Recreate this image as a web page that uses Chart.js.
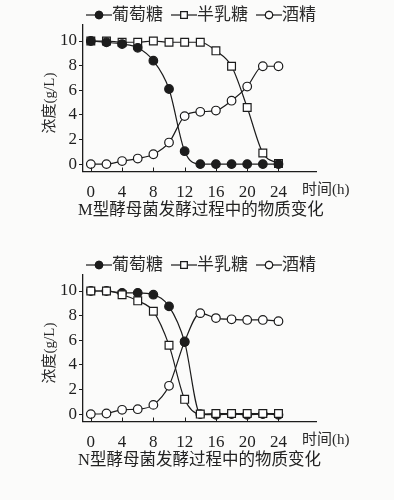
<!DOCTYPE html>
<html>
<head>
<meta charset="utf-8">
<script src="https://cdn.jsdelivr.net/npm/chart.js@4.4.1/dist/chart.umd.min.js"></script>
<style>
  html, body { margin: 0; padding: 0; background: #fbfbfa; }
  .panel { position: absolute; left: 0; width: 394px; height: 250px; }
</style>
</head>
<body>
<div class="panel" style="top:0"><canvas id="chartM" width="394" height="250"></canvas></div>
<div class="panel" style="top:250px"><canvas id="chartN" width="394" height="250"></canvas></div>
<script>
'use strict';

/* ─── Data ─── */
const hours = [0, 2, 4, 6, 8, 10, 12, 14, 16, 18, 20, 22, 24];
const seriesNames = ['葡萄糖', '半乳糖', '酒精'];

// M-type yeast
const mGlucose   = [10, 9.9, 9.75, 9.45, 8.4, 6.1, 1.05, 0, 0, 0, 0, 0, 0];
const mGalactose = [10, 10, 9.9, 9.9, 10, 9.9, 9.9, 9.9, 9.2, 7.95, 4.6, 0.9, 0.05];
const mEthanol   = [0, 0, 0.25, 0.45, 0.8, 1.75, 3.9, 4.25, 4.35, 5.15, 6.3, 7.95, 7.95];

// N-type yeast
const nGlucose   = [10, 10, 9.85, 9.85, 9.7, 8.75, 5.85, 0, -0.05, 0, -0.05, 0, -0.05];
const nGalactose = [10, 10, 9.7, 9.2, 8.35, 5.6, 1.2, 0, 0.05, 0.05, 0.05, 0.05, 0.05];
const nEthanol   = [0, 0.05, 0.35, 0.4, 0.75, 2.3, 5.9, 8.2, 7.8, 7.7, 7.65, 7.65, 7.55];

const xTicks = [0, 4, 8, 12, 16, 20, 24];
const yTicks = [0, 2, 4, 6, 8, 10];

const captions = {
  chartM: 'M型酵母菌发酵过程中的物质变化',
  chartN: 'N型酵母菌发酵过程中的物质变化'
};

/* ─── Style ─── */
const INK   = '#1c1c1c';
const FONT  = '"Liberation Serif", "Noto Sans CJK SC", serif';
const MARKS = [
  { pointStyle: 'circle', radius: 4.3, fill: INK },
  { pointStyle: 'rect',   radius: 5.5, fill: '#ffffff' },
  { pointStyle: 'circle', radius: 4.3, fill: '#ffffff' }
];

function toPoints(values) {
  return hours.map((h, i) => ({ x: h, y: values[i] }));
}

// topIndex: which series is painted over the others
function makeDatasets(series, topIndex) {
  return series.map((vals, i) => ({
    label: seriesNames[i],
    data: toPoints(vals),
    borderColor: INK,
    borderWidth: 1.2,
    cubicInterpolationMode: 'monotone',
    pointStyle: MARKS[i].pointStyle,
    pointRadius: MARKS[i].radius,
    pointBackgroundColor: MARKS[i].fill,
    pointBorderColor: INK,
    pointBorderWidth: 1.2,
    order: i === topIndex ? 0 : 1 + i
  }));
}

/* ─── Legend, axis titles, caption, inward x ticks ─── */
const decor = {
  id: 'decor',
  afterDraw(chart) {
    const ctx = chart.ctx;
    const xs = chart.scales.x;
    const area = chart.chartArea;
    ctx.save();
    ctx.strokeStyle = INK;
    ctx.fillStyle = INK;
    ctx.lineWidth = 1;

    // inward ticks on the x axis
    xTicks.forEach(v => {
      const px = Math.round(xs.getPixelForValue(v)) + 0.5;
      ctx.beginPath();
      ctx.moveTo(px, area.bottom);
      ctx.lineTo(px, area.bottom - 4);
      ctx.stroke();
    });

    // legend: —●— label
    ctx.font = '17px ' + FONT;
    ctx.textBaseline = 'middle';
    ctx.textAlign = 'left';
    let lx = 86;
    const ly = 15;
    chart.data.datasets.forEach((ds, i) => {
      const segLen = 26;
      ctx.strokeStyle = INK;
      ctx.lineWidth = 1.2;
      ctx.beginPath();
      ctx.moveTo(lx, ly);
      ctx.lineTo(lx + segLen, ly);
      ctx.stroke();
      ctx.fillStyle = MARKS[i].fill;
      Chart.helpers.drawPoint(ctx, {
        pointStyle: MARKS[i].pointStyle,
        radius: MARKS[i].radius * 0.85,
        borderWidth: 1.2
      }, lx + segLen / 2, ly);
      ctx.fill();
      ctx.stroke();
      ctx.fillStyle = '#2a2a2a';
      ctx.fillText(ds.label, lx + segLen, ly + 1);
      lx += segLen + ctx.measureText(ds.label).width + 8;
    });

    // y axis title, rotated
    ctx.fillStyle = '#2a2a2a';
    ctx.font = '15px ' + FONT;
    ctx.save();
    ctx.translate(50, 103);
    ctx.rotate(-Math.PI / 2);
    ctx.textAlign = 'center';
    ctx.fillText('浓度(g/L)', 0, 0);
    ctx.restore();

    // x axis title
    ctx.textAlign = 'left';
    ctx.fillText('时间(h)', 302, 190);

    // caption
    ctx.font = '16.5px ' + FONT;
    ctx.fillStyle = '#222';
    ctx.fillText(captions[chart.canvas.id], 78, 211);
    ctx.restore();
  }
};

function buildChart(id, series, topIndex) {
  return new Chart(document.getElementById(id), {
    type: 'line',
    data: { datasets: makeDatasets(series, topIndex) },
    plugins: [decor],
    options: {
      responsive: false,
      animation: false,
      events: [],
      layout: { padding: { left: 0, right: 78, top: 25, bottom: 0 } },
      plugins: { legend: { display: false }, tooltip: { enabled: false } },
      scales: {
        x: {
          type: 'linear',
          min: -1,
          max: 28.8,
          afterBuildTicks: s => { s.ticks = xTicks.map(v => ({ value: v })); },
          afterFit: s => { s.height = 78.5; },
          grid: { display: false },
          border: { display: true, color: INK, width: 1.3 },
          ticks: { color: '#1e1e1e', padding: 3, font: { family: FONT, size: 17 }, maxRotation: 0, autoSkip: false }
        },
        y: {
          min: -0.6,
          max: 11.3,
          afterBuildTicks: s => { s.ticks = yTicks.map(v => ({ value: v })); },
          afterFit: s => { s.width = 83; },
          grid: { drawOnChartArea: false, tickLength: 4, color: INK },
          border: { display: true, color: INK, width: 1.3 },
          ticks: { color: '#1e1e1e', padding: 2, font: { family: FONT, size: 17 } }
        }
      }
    }
  });
}

buildChart('chartM', [mGlucose, mGalactose, mEthanol], 0);
buildChart('chartN', [nGlucose, nGalactose, nEthanol], 1);
</script>
</body>
</html>
